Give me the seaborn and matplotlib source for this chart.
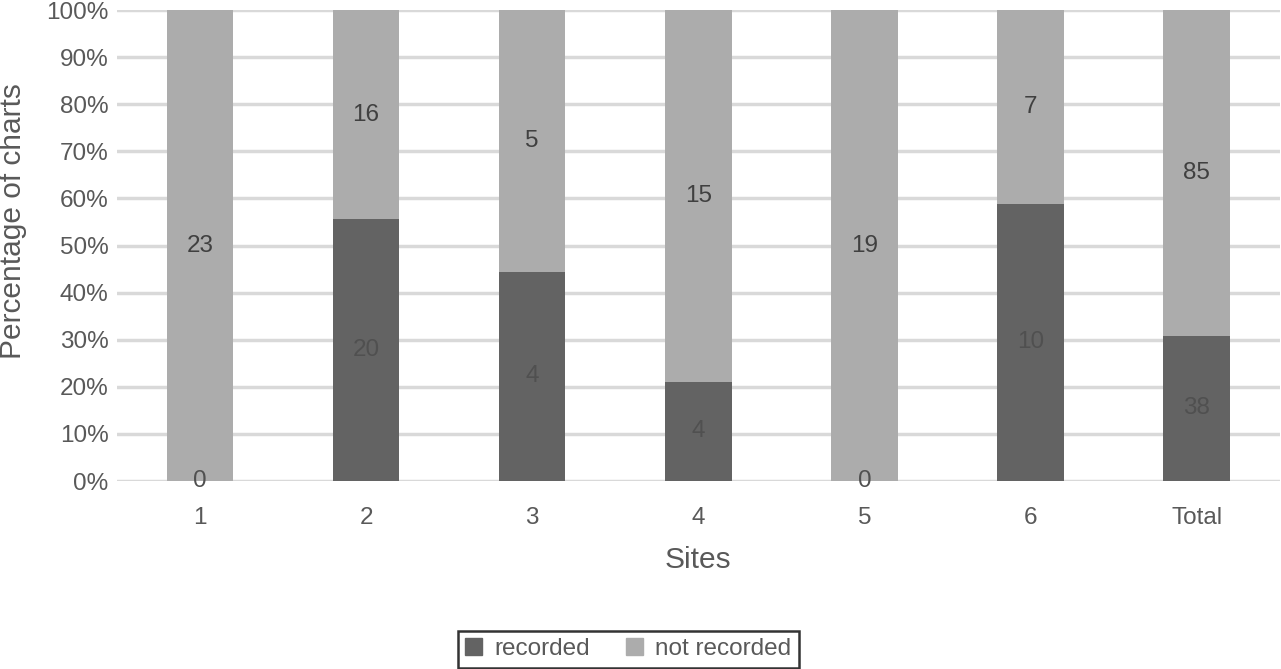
import matplotlib
matplotlib.use("Agg")
import matplotlib.pyplot as plt
import matplotlib.patches as mpatches
from matplotlib.ticker import PercentFormatter
import seaborn as sns
import pandas as pd

sites = ["1", "2", "3", "4", "5", "6", "Total"]
recorded = [0, 20, 4, 4, 0, 10, 38]
not_recorded = [23, 16, 5, 15, 19, 7, 85]

DARK = "#636363"
LIGHT = "#acacac"
TEXT = "#595959"
GRID = "#d9d9d9"

df = pd.DataFrame({"site": sites, "recorded": recorded, "not_recorded": not_recorded})
df["total"] = df["recorded"] + df["not_recorded"]
df["pct_rec"] = df["recorded"] / df["total"] * 100
df["pct_all"] = 100.0

sns.set_style("white")
plt.rcParams["font.family"] = ["Liberation Sans", "DejaVu Sans"]

fig = plt.figure(figsize=(12.81, 6.69), dpi=100)
ax = fig.add_axes([0.0913, 0.281, 0.9077, 0.704])

# full bar = not recorded, overlaid by recorded share
sns.barplot(data=df, x="site", y="pct_all", color=LIGHT, width=0.4,
            saturation=1, linewidth=0, ax=ax, zorder=2)
sns.barplot(data=df, x="site", y="pct_rec", color=DARK, width=0.4,
            saturation=1, linewidth=0, ax=ax, zorder=3)

for i, row in df.iterrows():
    ax.text(i, row["pct_rec"] + (100 - row["pct_rec"]) / 2, str(row["not_recorded"]),
            ha="center", va="center", fontsize=17.5, color="#404040", zorder=4)
    ax.text(i, row["pct_rec"] / 2, str(row["recorded"]),
            ha="center", va="center", fontsize=17.5, color="#505050", zorder=4)

ax.set_ylim(0, 100)
ax.set_xlim(-0.5, 6.5)
ax.set_yticks(range(0, 101, 10))
ax.yaxis.set_major_formatter(PercentFormatter(decimals=0))
ax.grid(axis="y", color=GRID, lw=2.5, zorder=0)
ax.set_axisbelow(True)
for s in ax.spines.values():
    s.set_visible(False)
ax.tick_params(axis="both", length=0, labelsize=17.5, labelcolor=TEXT)
ax.tick_params(axis="x", pad=19)
ax.tick_params(axis="y", pad=6)
ax.set_xlabel("Sites", fontsize=21.5, color=TEXT, labelpad=12)
ax.set_ylabel("Percentage of charts", fontsize=21.5, color=TEXT)
ax.yaxis.set_label_coords(-0.077, 0.552)

handles = [mpatches.Patch(color=DARK, label="recorded"),
           mpatches.Patch(color=LIGHT, label="not recorded")]
leg = fig.legend(handles=handles, loc="lower center", bbox_to_anchor=(0.4904, 0.0),
                 ncol=2, fontsize=17.5, frameon=True, fancybox=False,
                 handlelength=0.7, handleheight=0.7, handletextpad=0.5,
                 columnspacing=1.5, borderpad=0.3, borderaxespad=0.05)
leg.get_frame().set_edgecolor("black")
leg.get_frame().set_linewidth(1.8)
for t in leg.get_texts():
    t.set_color(TEXT)

fig.savefig("out.png", dpi=100)
